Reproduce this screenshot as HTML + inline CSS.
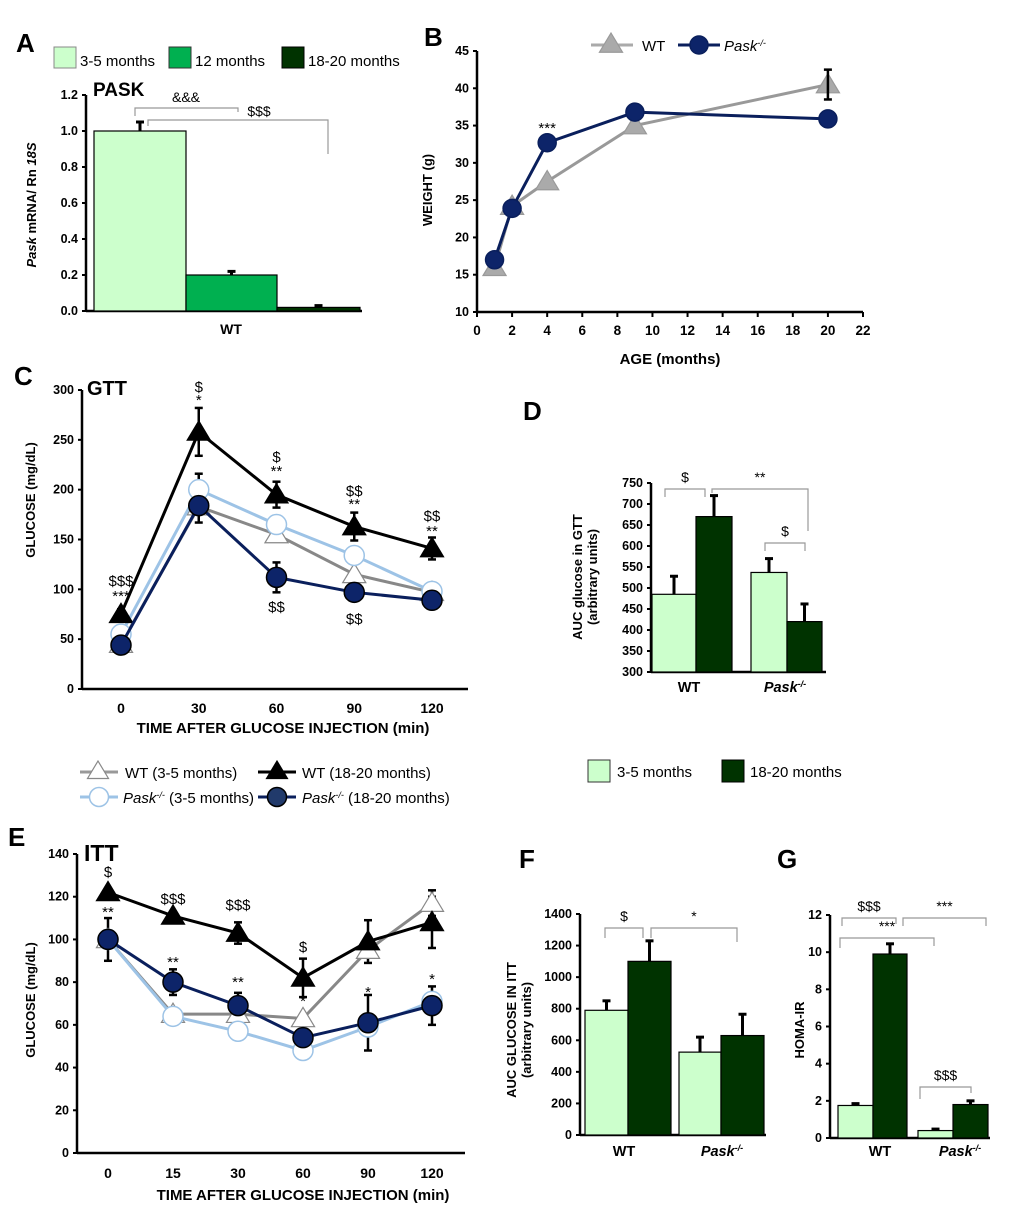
<!DOCTYPE html>
<html><head><meta charset="utf-8"><style>
body{margin:0;background:#fff}
svg{display:block;font-family:"Liberation Sans",Arial,sans-serif}
.t{font-size:12.5px;font-weight:bold;fill:#000}
.n{font-size:14px;fill:#000}
.L{font-size:26px;font-weight:bold}
</style></head><body>
<svg id="s" width="1020" height="1223" viewBox="0 0 1020 1223"></svg>
<script>
// ---- data ----
const aCats=["3-5 months","12 months","18-20 months"];
const aVals=[1.0,0.2,0.02];
const aErr=[0.05,0.02,0.01];
const aTicks=[0,0.2,0.4,0.6,0.8,1.0,1.2];
const bAges=[1,2,4,9,20];
const bWT=[16,24.2,27.5,35,40.5];
const bPask=[17,23.9,32.7,36.8,35.9];
const bTicksX=[0,2,4,6,8,10,12,14,16,18,20,22];
const bTicksY=[10,15,20,25,30,35,40,45];
const cTimes=[0,30,60,90,120];
const cWTy=[45,183,155,115,97];
const cWTo=[75,258,195,163,141];
const cPy=[55,200,165,134,98];
const cPo=[44,184,112,97,89];
const cErrWTo=[5,24,13,14,11];
const cErrPo=[4,17,15,6,4];
const cTicksY=[0,50,100,150,200,250,300];
const dVals=[485,670,537,420];
const dErr=[43,50,33,42];
const dTicks=[300,350,400,450,500,550,600,650,700,750];
const eTimes=["0","15","30","60","90","120"];
const eWTy=[100,65,65,63,95,117];
const eWTo=[122,111,103,82,99,108];
const ePy=[100,64,57,48,59,71];
const ePo=[100,80,69,54,61,69];
const eErrWTo=[1,1,5,9,10,12];
const eErrPo=[10,6,6,4,13,9];
const eTicks=[0,20,40,60,80,100,120,140];
const fVals=[790,1100,525,630];
const fErr=[60,130,95,135];
const fTicks=[0,200,400,600,800,1000,1200,1400];
const gVals=[1.75,9.9,0.4,1.8];
const gErr=[0.1,0.55,0.08,0.2];
const gTicks=[0,2,4,6,8,10,12];

const S=document.getElementById('s');const NS="http://www.w3.org/2000/svg";
function el(tag,at,txt,name){const e=document.createElementNS(NS,tag);for(const k in at)e.setAttribute(k,at[k]);if(txt!==undefined)e.innerHTML=txt;


S.appendChild(e);return e;}
function line(x1,y1,x2,y2,c,w,n){return el('line',{x1,y1,x2,y2,stroke:c,'stroke-width':w},undefined,n||'line');}
function text(x,y,s,cls,anchor,n,extra){const a={x,y,class:cls,'text-anchor':anchor||'start'};Object.assign(a,extra||{});return el('text',a,s,n||'label');}
function lin(d0,d1,r0,r1){return v=>r0+(v-d0)*(r1-r0)/(d1-d0);}
function yAxis(x,yT,yB,ticks,sc,fmt,n){line(x,yT,x,yB,'#000',2.5,n+'-axis');ticks.forEach(t=>{const y=sc(t);line(x-4,y,x,y,'#000',2,n+'-tick');text(x-8,y+4,fmt(t),'t','end',n+'-tick-label');});}
function xAxis(y,x0,x1,n){line(x0,y,x1,y,'#000',2.5,n+'-x-axis');}
function bracket(x1,x2,y,d1,d2,lab,n){el('path',{d:`M${x1} ${y+d1}V${y}H${x2}V${y+d2}`,fill:'none',stroke:'#999','stroke-width':1.2},undefined,n);if(lab)text((x1+x2)/2,y-7,lab,'n','middle',n+'-label');}
function drawBar(x0,x1,v,e,sc,base,fill,n){const y=sc(v),yb=sc(base);el('rect',{x:x0,y:y,width:x1-x0,height:yb-y,fill:fill,stroke:'#000','stroke-width':1.2},undefined,n);
const ye=sc(v+e);const xm=(x0+x1)/2;line(xm,y,xm,ye,'#000',3,n+'-error');line(xm-4,ye,xm+4,ye,'#000',3,n+'-error-cap');}
function marker(type,x,y,r,fill,stroke,n){if(type==='tri'){el('path',{d:`M${x} ${y-r}L${x+r*1.05} ${y+r*0.75}L${x-r*1.05} ${y+r*0.75}Z`,fill,stroke,'stroke-width':1.2},undefined,n);}else el('circle',{cx:x,cy:y,r,fill,stroke,'stroke-width':1.5},undefined,n);}
function series(xs,ys,sx,sy,col,w,type,fill,mstroke,r,n){el('polyline',{points:xs.map((x,i)=>sx(x)+','+sy(ys[i])).join(' '),fill:'none',stroke:col,'stroke-width':w},undefined,n+'-line');
xs.forEach((x,i)=>marker(type,sx(x),sy(ys[i]),r,fill,mstroke,n+'-point'));}
function errs(xs,ys,es,sx,sy,n){xs.forEach((x,i)=>{const X=sx(x);const a=sy(ys[i]+es[i]),b=sy(ys[i]-es[i]);line(X,a,X,b,'#000',2.5,n+'-error');line(X-4,a,X+4,a,'#000',2.5,n+'-cap');line(X-4,b,X+4,b,'#000',2.5,n+'-cap');});}
const LG='#ccffcc',MG='#00b050',DG='#003300';

// ===== A =====
text(16,52,'A','L','start','panel-a-label');
[[54,aCats[0],LG,'#888'],[169,aCats[1],MG,'#333'],[282,aCats[2],DG,'#000']].forEach((c,i)=>{el('rect',{x:c[0],y:47,width:22,height:21,fill:c[2],stroke:c[3],'stroke-width':1},undefined,'legend-a-swatch');text(c[0]+26,66,c[1],'n','start','legend-a-entry',{style:'font-size:15px'});});
const aY=lin(0,1.2,311,95);
yAxis(86,95,311,aTicks,aY,t=>t.toFixed(1),'a-y');
xAxis(311,86,362,'a');
const aX=[94,186,277,360];
aVals.forEach((v,i)=>drawBar(aX[i],aX[i+1],v,aErr[i],aY,0,[LG,MG,DG][i],'bar-a-'+i));
text(93,96,'PASK','n','start','panel-a-title',{style:'font-size:19px;font-weight:bold'});
bracket(135,238,108,8,4,'','bracket-a1');text(186,102,'&amp;&amp;&amp;','n','middle','sig-a1');
bracket(148,328,120,6,34,'','bracket-a2');text(259,116,'$$$','n','middle','sig-a2');
text(231,334,'WT','t','middle','a-x-label',{style:'font-size:14px'});
text(0,0,'<tspan font-style="italic">Pask</tspan> mRNA/ Rn <tspan font-style="italic">18S</tspan>','t','middle','a-y-title',{transform:'translate(36,205) rotate(-90)',style:'font-size:13px'});

// ===== B =====
text(424,46,'B','L','start','panel-b-label');
const bX=lin(0,22,477,863),bY=lin(10,45,312,51);
yAxis(477,51,312,bTicksY,bY,t=>t,'b-y');
xAxis(312,477,863,'b');
bTicksX.forEach(t=>{line(bX(t),312,bX(t),317,'#000',2,'b-x-tick');text(bX(t),335,t,'t','middle','b-x-tick-label',{style:'font-size:13.5px'});});
series(bAges,bWT,bX,bY,'#999',3,'tri','#aaa','#999',11,'b-wt');
series(bAges,bPask,bX,bY,'#0a1f5c',3,'circ','#0d2469','#0a1f5c',9,'b-pask');
errs([20],[bWT[4]],[2],bX,bY,'b-wt');
text(bX(4),133,'***','n','middle','sig-b',{style:'font-size:15px'});
text(670,364,'AGE (months)','t','middle','b-x-title',{style:'font-size:15px'});
text(0,0,'WEIGHT (g)','t','middle','b-y-title',{transform:'translate(432,190) rotate(-90)',style:'font-size:13px'});
line(591,45,633,45,'#aaa',3,'legend-b-wt-line');marker('tri',611,44,11,'#aaa','#999','legend-b-wt-marker');text(642,51,'WT','n','start','legend-b-wt',{style:'font-size:15px'});
line(678,45,720,45,'#0a1f5c',3,'legend-b-pask-line');marker('circ',699,45,9,'#0d2469','#0a1f5c','legend-b-pask-marker');text(724,51,'<tspan font-style="italic">Pask<tspan baseline-shift="super" font-size="9">-/-</tspan></tspan>','n','start','legend-b-pask',{style:'font-size:15px'});

// ===== C =====
text(14,385,'C','L','start','panel-c-label');
const cX=lin(0,120,121,432),cY=lin(0,300,689,390);
yAxis(82,390,689,cTicksY,cY,t=>t,'c-y');xAxis(689,82,468,'c');
cTimes.forEach(t=>text(cX(t),713,t,'t','middle','c-x-tick-label',{style:'font-size:14px'}));
errs(cTimes,cWTo,cErrWTo,cX,cY,'c-wto');errs(cTimes,cPo,cErrPo,cX,cY,'c-po');errs([30],[cPy[1]],[16],cX,cY,'c-py');
series(cTimes,cWTy,cX,cY,'#888',3,'tri','#fff','#888',11,'c-wt-young');
series(cTimes,cPy,cX,cY,'#9dc3e6',3,'circ','#fff','#9dc3e6',10,'c-pask-young');
series(cTimes,cWTo,cX,cY,'#000',3,'tri','#000','#000',11,'c-wt-old');
series(cTimes,cPo,cX,cY,'#0a1f5c',3,'circ','#0d2469','#000',10,'c-pask-old');
[[0,'$$$',586],[0,'***',601],[30,'$',392],[30,'*',405],[60,'$',462],[60,'**',476],[90,'$$',496],[90,'**',509],[120,'$$',521],[120,'**',536],[60,'$$',612],[90,'$$',624]].forEach(s=>text(cX(s[0]),s[2],s[1],'n','middle','sig-c',{style:'font-size:15px'}));
text(87,395,'GTT','n','start','panel-c-title',{style:'font-size:20px;font-weight:bold'});
text(283,733,'TIME AFTER GLUCOSE INJECTION (min)','t','middle','c-x-title',{style:'font-size:15px'});
text(0,0,'GLUCOSE (mg/dL)','t','middle','c-y-title',{transform:'translate(35,500) rotate(-90)',style:'font-size:13px'});
// legend
line(80,772,118,772,'#999',3,'legend-wt-young-line');marker('tri',98,771,10,'#fff','#888','legend-wt-young-marker');text(125,778,'WT (3-5 months)','n','start','legend-wt-young',{style:'font-size:15px'});
line(258,772,296,772,'#000',3,'legend-wt-old-line');marker('tri',277,771,10,'#000','#000','legend-wt-old-marker');text(302,778,'WT (18-20 months)','n','start','legend-wt-old',{style:'font-size:15px'});
line(80,797,118,797,'#9dc3e6',3,'legend-pask-young-line');marker('circ',99,797,9.5,'#fff','#9dc3e6','legend-pask-young-marker');text(123,803,'<tspan font-style="italic">Pask<tspan baseline-shift="super" font-size="9">-/-</tspan></tspan> (3-5 months)','n','start','legend-pask-young',{style:'font-size:15px'});
line(258,797,296,797,'#0a1f5c',3,'legend-pask-old-line');marker('circ',277,797,9.5,'#213a6b','#000','legend-pask-old-marker');text(302,803,'<tspan font-style="italic">Pask<tspan baseline-shift="super" font-size="9">-/-</tspan></tspan> (18-20 months)','n','start','legend-pask-old',{style:'font-size:15px'});

// ===== D =====
text(523,420,'D','L','start','panel-d-label');
const dY=lin(300,750,672,483);
yAxis(651,483,672,dTicks,dY,t=>t,'d-y');xAxis(672,651,826,'d');
const dX=[[652,696],[696,732],[751,787],[787,822]];
dVals.forEach((v,i)=>drawBar(dX[i][0],dX[i][1],v,dErr[i],dY,300,i%2?DG:LG,'bar-d-'+i));
bracket(665,705,489,8,8,'$','bracket-d1');bracket(712,808,489,4,42,'**','bracket-d2');bracket(765,805,543,8,8,'$','bracket-d3');
text(689,692,'WT','t','middle','d-x-label',{style:'font-size:14.5px'});
text(785,692,'<tspan font-style="italic">Pask<tspan baseline-shift="super" font-size="9">-/-</tspan></tspan>','t','middle','d-x-label',{style:'font-size:14.5px'});
text(0,0,'AUC glucose in GTT','t','middle','d-y-title',{transform:'translate(582,577) rotate(-90)',style:'font-size:13px'});
text(0,0,'(arbitrary units)','t','middle','d-y-title',{transform:'translate(597,577) rotate(-90)',style:'font-size:13px'});
el('rect',{x:588,y:760,width:22,height:22,fill:LG,stroke:'#333'},undefined,'legend-d-young-swatch');text(617,777,'3-5 months','n','start','legend-d-young',{style:'font-size:15px'});
el('rect',{x:722,y:760,width:22,height:22,fill:DG,stroke:'#000'},undefined,'legend-d-old-swatch');text(750,777,'18-20 months','n','start','legend-d-old',{style:'font-size:15px'});

// ===== E =====
text(8,846,'E','L','start','panel-e-label');
const eXs=[108,173,238,303,368,432];const eIdx=eTimes.map((_,i)=>i);const eX=i=>eXs[i];const eY=lin(0,140,1153,854);
yAxis(77,854,1153,eTicks,eY,t=>t,'e-y');xAxis(1153,77,465,'e');
eTimes.forEach((t,i)=>text(eX(i),1178,t,'t','middle','e-x-tick-label',{style:'font-size:14px'}));
errs(eIdx,eWTo,eErrWTo,eX,eY,'e-wto');errs(eIdx,ePo,eErrPo,eX,eY,'e-po');errs([5],[eWTy[5]],[6],eX,eY,'e-wty');
series(eIdx,eWTy,eX,eY,'#888',3,'tri','#fff','#888',11,'e-wt-young');
series(eIdx,ePy,eX,eY,'#9dc3e6',3,'circ','#fff','#9dc3e6',10,'e-pask-young');
series(eIdx,eWTo,eX,eY,'#000',3,'tri','#000','#000',11,'e-wt-old');
series(eIdx,ePo,eX,eY,'#0a1f5c',3,'circ','#0d2469','#000',10,'e-pask-old');
[[0,'$',877],[0,'**',917],[1,'$$$',904],[2,'$$$',910],[3,'$',952],[1,'**',967],[2,'**',987],[3,'*',1006],[4,'*',997],[5,'*',984]].forEach(s=>text(eX(s[0]),s[2],s[1],'n','middle','sig-e',{style:'font-size:15px'}));
text(84,861,'ITT','n','start','panel-e-title',{style:'font-size:23px;font-weight:bold'});
text(303,1200,'TIME AFTER GLUCOSE INJECTION (min)','t','middle','e-x-title',{style:'font-size:15px'});
text(0,0,'GLUCOSE (mg/dL)','t','middle','e-y-title',{transform:'translate(35,1000) rotate(-90)',style:'font-size:13px'});

// ===== F =====
text(519,868,'F','L','start','panel-f-label');
const fY=lin(0,1400,1135,914);
yAxis(580,914,1135,fTicks,fY,t=>t,'f-y');xAxis(1135,580,766,'f');
const fX=[[585,628],[628,671],[679,721],[721,764]];
fVals.forEach((v,i)=>drawBar(fX[i][0],fX[i][1],v,fErr[i],fY,0,i%2?DG:LG,'bar-f-'+i));
bracket(605,643,928,10,10,'$','bracket-f1');bracket(651,737,928,10,14,'*','bracket-f2');
text(624,1156,'WT','t','middle','f-x-label',{style:'font-size:14.5px'});
text(722,1156,'<tspan font-style="italic">Pask<tspan baseline-shift="super" font-size="9">-/-</tspan></tspan>','t','middle','f-x-label',{style:'font-size:14.5px'});
text(0,0,'AUC GLUCOSE IN ITT','t','middle','f-y-title',{transform:'translate(516,1030) rotate(-90)',style:'font-size:13px'});
text(0,0,'(arbitrary units)','t','middle','f-y-title',{transform:'translate(531,1030) rotate(-90)',style:'font-size:13px'});

// ===== G =====
text(777,868,'G','L','start','panel-g-label');
const gY=lin(0,12,1138,915);
yAxis(830,915,1138,gTicks,gY,t=>t,'g-y');xAxis(1138,830,990,'g');
const gX=[[838,873],[873,907],[918,953],[953,988]];
gVals.forEach((v,i)=>drawBar(gX[i][0],gX[i][1],v,gErr[i],gY,0,i%2?DG:LG,'bar-g-'+i));
bracket(842,896,918,8,6,'$$$','bracket-g1');bracket(903,986,918,8,8,'***','bracket-g2');bracket(840,934,938,10,8,'***','bracket-g3');bracket(920,971,1087,12,6,'$$$','bracket-g4');
text(880,1156,'WT','t','middle','g-x-label',{style:'font-size:14.5px'});
text(960,1156,'<tspan font-style="italic">Pask<tspan baseline-shift="super" font-size="9">-/-</tspan></tspan>','t','middle','g-x-label',{style:'font-size:14.5px'});
text(0,0,'HOMA-IR','t','middle','g-y-title',{transform:'translate(804,1030) rotate(-90)',style:'font-size:13px'});
</script>
</body></html>
